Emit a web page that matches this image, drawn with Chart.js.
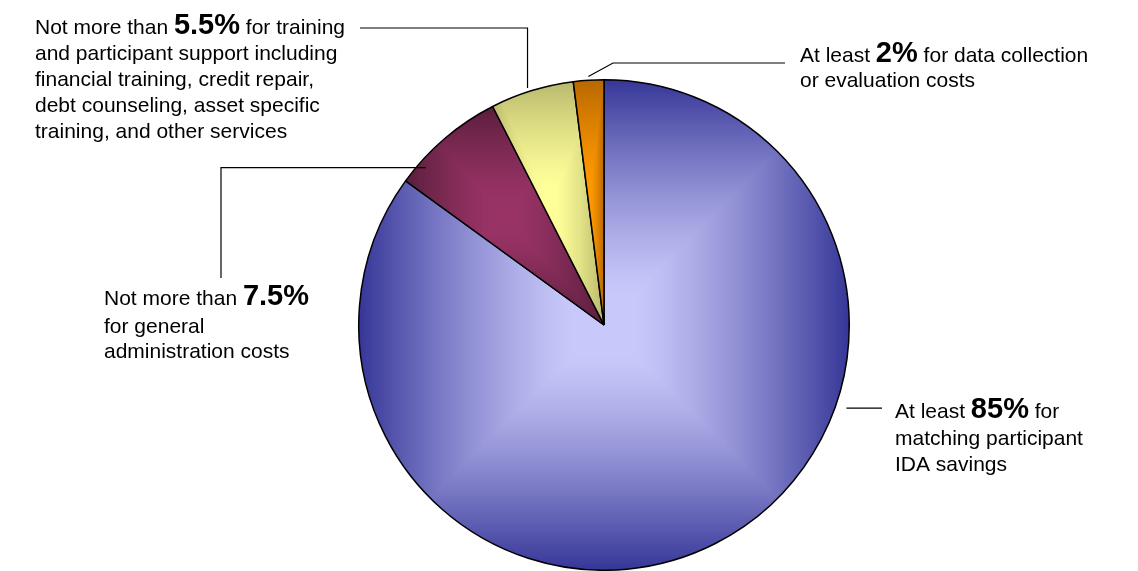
<!DOCTYPE html>
<html>
<head>
<meta charset="utf-8">
<script src="https://cdn.jsdelivr.net/npm/chart.js@4.4.1/dist/chart.umd.min.js"></script>
<style>
  html, body { margin: 0; padding: 0; background: #fff; }
  canvas { display: block; }
</style>
</head>
<body>
<canvas id="pie" width="1138" height="571"></canvas>
<script>
// Datos del gráfico
const categories = [
  'matching participant IDA savings',
  'general administration costs',
  'training and participant support',
  'data collection or evaluation costs'
];
const shares = [85, 7.5, 5.5, 2];
const leadWords = ['At least ', 'Not more than ', 'Not more than ', 'At least '];
const firstTail = [' for', '', ' for training', ' for data collection'];
const moreLines = [
  ['matching participant', 'IDA savings'],
  ['for general', 'administration costs'],
  ['and participant support including', 'financial training, credit repair,',
   'debt counseling, asset specific', 'training, and other services'],
  ['or evaluation costs']
];

// colores: claro (centro) y oscuro (borde)
const lightCols = [[200, 200, 250], [153, 51, 102], [255, 255, 153], [255, 153, 0]];
const darkCols  = [[54, 54, 152], [90, 30, 60], [185, 185, 110], [184, 104, 0]];
const FONT = '"Liberation Sans", Arial, sans-serif';

const patterns = {};

function sliceAngles(i) {
  const total = shares.reduce((a, b) => a + b, 0);
  let before = 0;
  for (let k = 0; k < i; k++) before += shares[k];
  const a0 = -Math.PI / 2 + 2 * Math.PI * before / total;
  return [a0, a0 + 2 * Math.PI * shares[i] / total];
}

// sombreado rectangular "desde el centro" sobre la caja de cada porción
function shade(ctx) {
  const chart = ctx.chart;
  const i = ctx.dataIndex;
  const area = chart.chartArea;
  const rgb = (c) => 'rgb(' + c.join(',') + ')';
  if (!area || i === undefined) return rgb(lightCols[i] || [150, 150, 150]);
  const key = i + ':' + area.width + 'x' + area.height;
  if (patterns[key]) return patterns[key];

  const cx = (area.left + area.right) / 2, cy = (area.top + area.bottom) / 2;
  const r = (Math.min(area.width, area.height) - 1.5) / 2;
  const [a0, a1] = sliceAngles(i);
  const xs = [cx], ys = [cy];
  for (let k = 0; k <= 90; k++) {
    const a = a0 + (a1 - a0) * k / 90;
    xs.push(cx + r * Math.cos(a));
    ys.push(cy + r * Math.sin(a));
  }
  const x0 = Math.min(...xs), x1 = Math.max(...xs);
  const y0 = Math.min(...ys), y1 = Math.max(...ys);
  const mx = (x0 + x1) / 2, my = (y0 + y1) / 2;
  const hw = Math.max((x1 - x0) / 2, 1), hh = Math.max((y1 - y0) / 2, 1);

  const W = chart.width, H = chart.height;
  const off = document.createElement('canvas');
  off.width = W; off.height = H;
  const g = off.getContext('2d');
  const img = g.createImageData(W, H);
  const d = img.data;
  const lo = darkCols[i], hi = lightCols[i];
  for (let y = 0; y < H; y++) {
    for (let x = 0; x < W; x++) {
      let t = Math.max(Math.abs(x + 0.5 - mx) / hw, Math.abs(y + 0.5 - my) / hh);
      if (t > 1) t = 1;
      const s = t < 0.12 ? 1 : 1 - Math.pow((t - 0.12) / 0.88, 1.3);
      const o = (y * W + x) * 4;
      d[o] = lo[0] + (hi[0] - lo[0]) * s;
      d[o + 1] = lo[1] + (hi[1] - lo[1]) * s;
      d[o + 2] = lo[2] + (hi[2] - lo[2]) * s;
      d[o + 3] = 255;
    }
  }
  g.putImageData(img, 0, 0);
  patterns[key] = g.createPattern(off, 'no-repeat');
  return patterns[key];
}

// Etiquetas con líneas guía
const labelLayout = [
  { x: 895, y: 418, gap: 27, lh: 26, anchor: [0.356, 1.045], path: (p) => [[p.x, p.y], [882, p.y]] },
  { x: 104, y: 305, gap: 28, lh: 25, anchor: [0.2, 0.97],   path: (p) => [[p.x, p.y], [221, p.y], [221, 278]] },
  { x: 35,  y: 34,  gap: 26, lh: 26, anchor: [0.46, 1.015], path: (p) => [[p.x, p.y], [p.x, 28], [360, 28]] },
  { x: 800, y: 62,  gap: 25, lh: 25, anchor: [0.5, 1.015],  path: (p) => [[p.x, p.y], [613, 63], [785, 63]] }
];

const calloutPlugin = {
  id: 'callouts',
  afterDraw(chart) {
    const c = chart.ctx;
    const arcs = chart.getDatasetMeta(0).data;
    c.save();
    arcs.forEach((arc, i) => {
      const L = labelLayout[i];
      const a = arc.startAngle + (arc.endAngle - arc.startAngle) * L.anchor[0];
      const rr = arc.outerRadius * L.anchor[1];
      const p = { x: arc.x + rr * Math.cos(a), y: arc.y + rr * Math.sin(a) };
      const pts = L.path(p);
      c.beginPath();
      c.moveTo(pts[0][0], pts[0][1]);
      for (let k = 1; k < pts.length; k++) c.lineTo(pts[k][0], pts[k][1]);
      c.strokeStyle = '#000';
      c.lineWidth = 1.2;
      c.stroke();

      c.fillStyle = '#000';
      c.textBaseline = 'alphabetic';
      c.textAlign = 'left';
      let x = L.x;
      c.font = '21px ' + FONT;
      c.fillText(leadWords[i], x, L.y);
      x += c.measureText(leadWords[i]).width;
      c.font = 'bold 29px ' + FONT;
      const pct = shares[i] + '%';
      c.fillText(pct, x, L.y);
      x += c.measureText(pct).width;
      c.font = '21px ' + FONT;
      c.fillText(firstTail[i], x, L.y);
      moreLines[i].forEach((t, k) => {
        c.fillText(t, L.x, L.y + L.gap + k * L.lh);
      });
    });
    c.restore();
  }
};

new Chart(document.getElementById('pie'), {
  type: 'pie',
  data: {
    labels: categories,
    datasets: [{
      data: shares,
      backgroundColor: shade,
      borderColor: '#000',
      borderWidth: 1.5
    }]
  },
  options: {
    responsive: false,
    animation: false,
    layout: { padding: { top: 79, bottom: 0, left: 350, right: 280 } },
    plugins: { legend: { display: false }, tooltip: { enabled: false } }
  },
  plugins: [calloutPlugin]
});
</script>
</body>
</html>
